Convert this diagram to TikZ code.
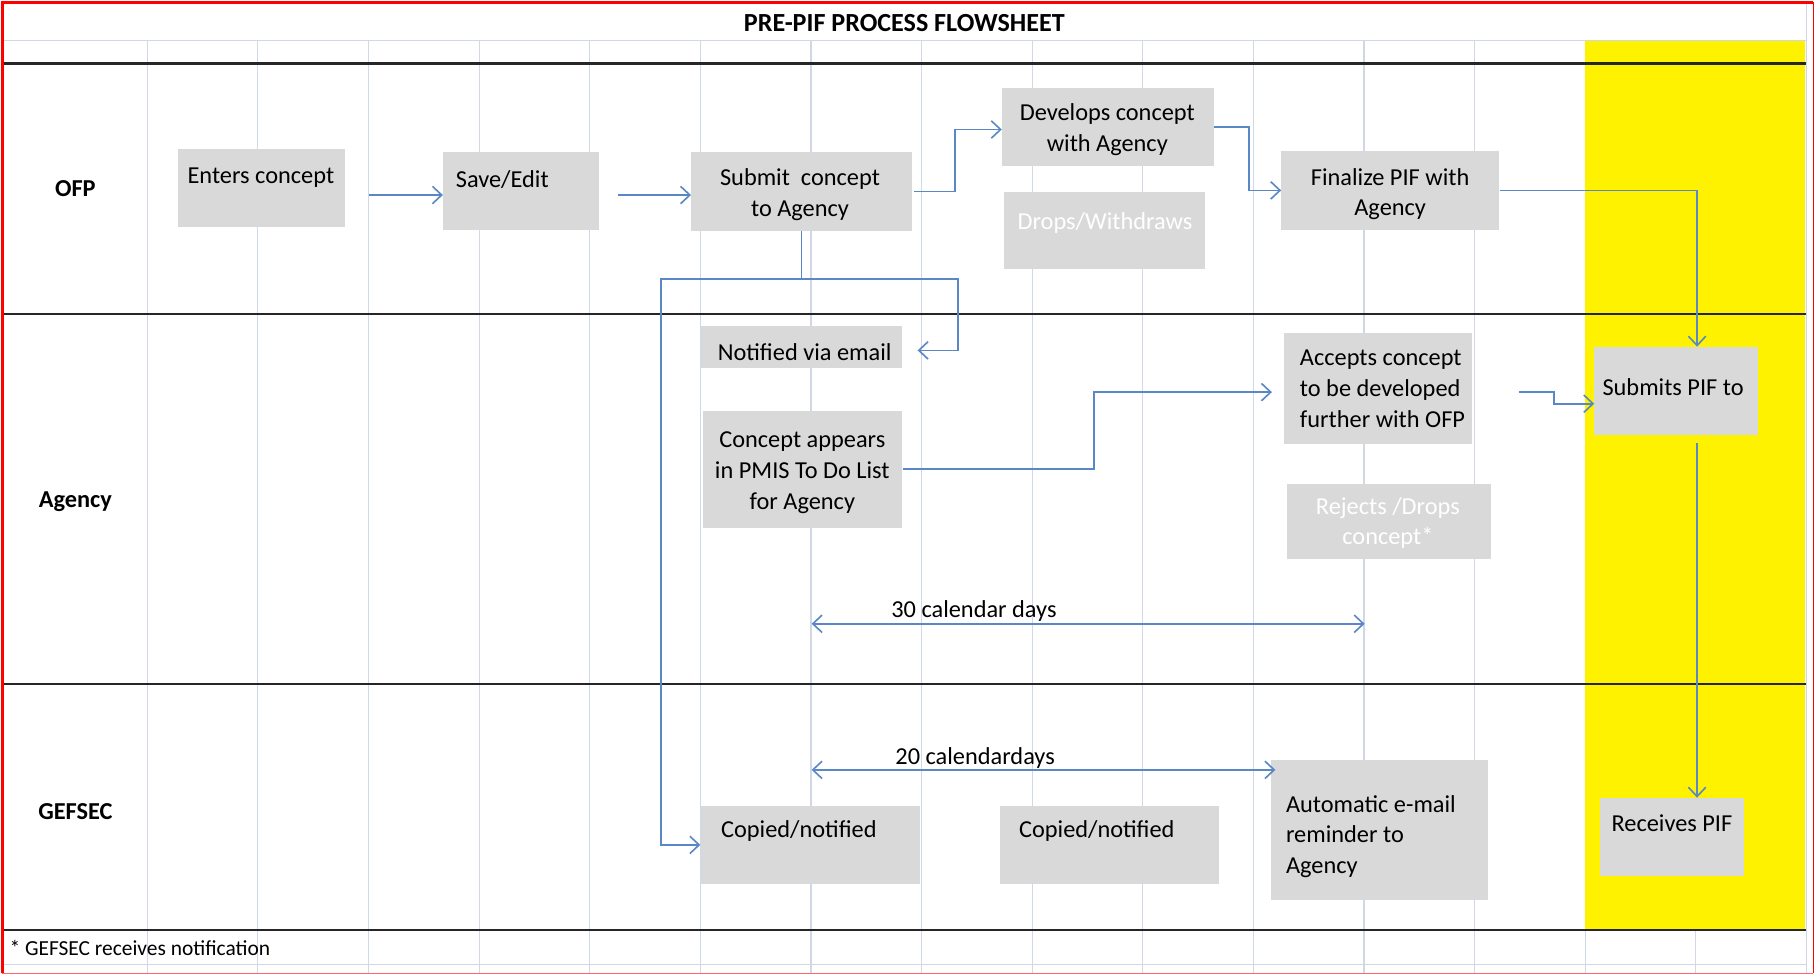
\documentclass[tikz,border=0pt]{standalone}
\usepackage{fontspec}
\setmainfont{Carlito}
\usetikzlibrary{arrows.meta}
\definecolor{boxgray}{HTML}{D9D9D9}
\definecolor{lineblue}{HTML}{5A88C6}
\definecolor{gridc}{HTML}{D0D7E5}
\begin{document}
\begin{tikzpicture}[x=1pt,y=-1pt,
  box/.style={fill=boxgray, draw=none, inner sep=0pt, anchor=north west},
  txt/.style={inner sep=0pt, align=center, font=\fontsize{21}{26.5}\selectfont, text=black},
  wtxt/.style={txt, text=white},
  lane/.style={inner sep=0pt, font=\bfseries\fontsize{21}{25}\selectfont},
  conn/.style={draw=lineblue, line width=1.4pt, -{Straight Barb[length=8pt,width=15pt]}},
  dconn/.style={draw=lineblue, line width=1.4pt, {Straight Barb[length=8pt,width=15pt]}-{Straight Barb[length=8pt,width=15pt]}},
  gridl/.style={draw=gridc, line width=1pt},
  lanel/.style={draw=black!85, line width=2.2pt}]

\useasboundingbox (0,0) rectangle (1568,840);
% grid
\foreach \i in {0,...,15} \draw[gridl] ({127+95.4*\i},35) -- ({127+95.4*\i},840);
\draw[gridl] (3,35) -- (1558,35);
\draw[gridl] (3,832) -- (1558,832);
\draw[gridl] (1558,2) -- (1558,840);
\fill[yellow] (1367,35) rectangle (1557,802);
\foreach \y in {55,271,590,802} \draw[lanel] (3,\y) -- (1558,\y);

% title, lanes, footer
\node[inner sep=0pt, font=\bfseries\fontsize{22.5}{27}\selectfont] (title) at (780,20) {PRE-PIF PROCESS FLOWSHEET};
\node[lane] (ofp) at (65,163) {OFP};
\node[lane] (agency) at (65,433) {Agency};
\node[lane] (gefsec) at (65,700) {GEFSEC};
\node[anchor=west, inner sep=0pt, font=\fontsize{18.5}{22}\selectfont] (foot) at (8,818) {* GEFSEC receives notification};

% boxes
\node[box, minimum width=144pt, minimum height=68pt] (enters) at (153,128) {};
\node[box, minimum width=134pt, minimum height=67pt] (save) at (382,131) {};
\node[box, minimum width=190pt, minimum height=68pt] (submit) at (596,131) {};
\node[box, minimum width=183pt, minimum height=67pt] (develops) at (864,76) {};
\node[box, minimum width=173pt, minimum height=67pt] (drops) at (866,165) {};
\node[box, minimum width=188pt, minimum height=68pt] (finalize) at (1105,130) {};
\node[box, minimum width=174pt, minimum height=36pt] (notified) at (604,281) {};
\node[box, minimum width=172pt, minimum height=101pt] (concept) at (606,354) {};
\node[box, minimum width=162pt, minimum height=96pt] (accepts) at (1107,287) {};
\node[box, minimum width=176pt, minimum height=65pt] (rejects) at (1110,417) {};
\node[box, minimum width=141pt, minimum height=76pt] (submits) at (1375,299) {};
\node[box, minimum width=189pt, minimum height=67pt] (copied1) at (604,695) {};
\node[box, minimum width=189pt, minimum height=67pt] (copied2) at (862,695) {};
\node[box, minimum width=187pt, minimum height=121pt] (auto) at (1096,655) {};
\node[box, minimum width=124pt, minimum height=67pt] (receives) at (1380,688) {};

% texts
\node[txt] (tenters) at (225,153) {Enters concept};
\node[txt, anchor=west] (tsave) at (393,155) {Save/Edit};
\node[txt] (tsubmit) at (690,168) {Submit\ \ concept\\to Agency};
\node[txt] (tdevelops) at (955,111.5) {Develops concept\\with Agency};
\node[wtxt] (tdrops) at (953,192) {Drops/Withdraws};
\node[txt] (tfinal) at (1199,167.5) {Finalize PIF with\\Agency};
\node[txt] (tnotified) at (694,304) {Notified via email};
\node[txt] (tconcept) at (692,407.5) {Concept appears\\in PMIS To Do List\\for Agency};
\node[txt, align=left, anchor=west] (taccepts) at (1121,335.5) {Accepts concept\\to be developed\\further with OFP};
\node[wtxt] (trejects) at (1197,451) {Rejects /Drops\\concept*};
\node[txt] (tsubmits) at (1443,334) {Submits PIF to};
\node[txt] (tcopied1) at (689,717) {Copied/notified};
\node[txt] (tcopied2) at (946,717) {Copied/notified};
\node[txt, align=left, anchor=west] (tauto) at (1109,721.5) {Automatic e-mail\\reminder to\\Agency};
\node[txt] (treceives) at (1442,710) {Receives PIF};

% connectors
\draw[conn] ([xshift=21pt,yshift=-6pt]enters.east) -- ([yshift=-3.5pt]save.west);
\draw[conn] ([xshift=17pt,yshift=-3.5pt]save.east) -- ([yshift=-3pt]submit.west);
\draw[conn] ([xshift=2pt]submit.east) -- ++(35,0) |- ([yshift=-2pt]develops.west);
\draw[conn] (develops.east) -- ++(30,0) |- (finalize.west);
\draw[conn] (finalize.east) -| ([xshift=18pt]submits.north);
\draw[conn] ([xshift=18pt,yshift=-7pt]submits.south) -- ([xshift=21.5pt]receives.north);
\draw[conn] (submit.south) |- ++(135,41) |- ([xshift=13pt,yshift=-3pt]notified.east);
\draw[conn] (submit.south) |- ++(-121,41) |- (copied1.west);
\draw[conn] (concept.east) -- ++(165,0) |- ([xshift=-10pt,yshift=-3pt]accepts.west);
\draw[conn] ([xshift=41pt,yshift=-3pt]accepts.east) -- ++(30,0) |- ([yshift=-11pt]submits.west);

% durations
\coordinate (d30a) at (700,538);
\coordinate (d30b) at (1177,538);
\draw[dconn] (d30a) -- (d30b);
\node[txt] (l30) at (840,527) {30 calendar days};
\coordinate (d20a) at (700,664);
\coordinate (d20b) at (1100,664);
\draw[dconn] (d20a) -- (d20b);
\node[txt] (l20) at (841,654) {20 calendardays};

% red border
\draw[red, line width=3pt] (1564,2) -- (2,2) -- (2,839);
\draw[red, line width=1.2pt] (1564,2) -- (1564,839);
\draw[red!60, line width=1pt] (2,839.5) -- (1564,839.5);
\end{tikzpicture}
\end{document}
